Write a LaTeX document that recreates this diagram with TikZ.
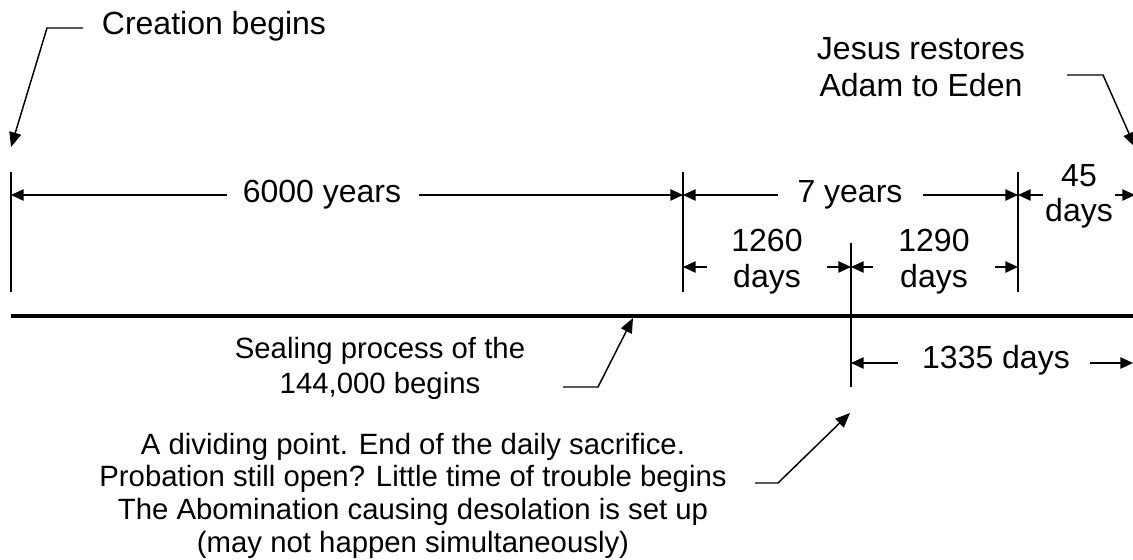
\documentclass[tikz,border=0pt]{standalone}
\usepackage{fontspec}
\setmainfont{Liberation Sans}
\usetikzlibrary{arrows.meta}
\tikzset{
  ln/.style={line width=1.1pt},
  mainline/.style={line width=2.6pt},
  dimarrow/.style={line width=1.1pt,-{Triangle[length=9.5pt,width=8.5pt]}},
  leader/.style={line width=1.1pt,-{Triangle[length=11pt,width=9pt]}},
  bigtext/.style={font=\fontsize{24}{27}\selectfont, align=center, inner sep=0pt, anchor=base},
  smalltext/.style={font=\fontsize{22}{25}\selectfont, align=center, inner sep=0pt, anchor=base},
}
\begin{document}
\begin{tikzpicture}[x=0.75pt,y=-0.75pt]
\useasboundingbox (0,0) rectangle (1133,560);
\clip (0,0) rectangle (1133,560);

% vertical marker lines
\coordinate (v0t) at (11,172);   \coordinate (v0b) at (11,292);
\coordinate (v1t) at (683,172);  \coordinate (v1b) at (683,292);
\coordinate (v2t) at (1018,172); \coordinate (v2b) at (1018,292);
\coordinate (vmt) at (851,243);  \coordinate (vmb) at (851,387);
\draw[ln] (v0t) -- (v0b);
\draw[ln] (v1t) -- (v1b);
\draw[ln] (v2t) -- (v2b);
\draw[ln] (vmt) -- (vmb);

% main time line
\coordinate (m0) at (11,316); \coordinate (m1) at (1133,316);
\draw[mainline] (m0) -- (m1);

% dimension labels (base = baseline of last line)
\node[bigtext] (t6000) at (322,203) {6000 years};
\node[bigtext] (t7) at (850,203) {7 years};
\node[bigtext, font=\fontsize{24}{26.25}\selectfont] (t45) at (1079,221) {45\\days};
\node[bigtext] (t1260) at (767,287) {1260\\days};
\node[bigtext] (t1290) at (934,287) {1290\\days};
\node[bigtext] (t1335) at (996,368) {1335 days};

% dimension arrows
\coordinate (a6l) at (227,195); \coordinate (a6r) at (419,195);
\coordinate (e6l) at (11,195);  \coordinate (e6r) at (683,195);
\draw[dimarrow] (a6l) -- (e6l);
\draw[dimarrow] (a6r) -- (e6r);

\coordinate (a7l) at (778,195); \coordinate (a7r) at (923,195);
\coordinate (e7l) at (683,195); \coordinate (e7r) at (1018,195);
\draw[dimarrow] (a7l) -- (e7l);
\draw[dimarrow] (a7r) -- (e7r);

\coordinate (a45l) at (1043,195); \coordinate (a45r) at (1115,195);
\coordinate (e45l) at (1018,195); \coordinate (e45r) at (1135,195);
\draw[dimarrow] (a45l) -- (e45l);
\draw[dimarrow] (a45r) -- (e45r);

\coordinate (a126l) at (707,267); \coordinate (a126r) at (827,267);
\coordinate (e126l) at (683,267); \coordinate (e126r) at (851,267);
\draw[dimarrow] (a126l) -- (e126l);
\draw[dimarrow] (a126r) -- (e126r);

\coordinate (a129l) at (873,267); \coordinate (a129r) at (995,267);
\coordinate (e129l) at (851,267); \coordinate (e129r) at (1018,267);
\draw[dimarrow] (a129l) -- (e129l);
\draw[dimarrow] (a129r) -- (e129r);

\coordinate (a133l) at (898,363); \coordinate (a133r) at (1090,363);
\coordinate (e133l) at (851,363); \coordinate (e133r) at (1133,363);
\draw[dimarrow] (a133l) -- (e133l);
\draw[dimarrow] (a133r) -- (e133r);

% annotations
\node[bigtext] (creation) at (214,35) {Creation begins};
\coordinate (c0) at (83,28); \coordinate (c1) at (47,28); \coordinate (c2) at (11,147);
\draw[leader] (c0) -- (c1) -- (c2);

\node[bigtext, font=\fontsize{24}{27.75}\selectfont] (jesus) at (921,97) {Jesus restores\\Adam to Eden};
\coordinate (j0) at (1067,75); \coordinate (j1) at (1103,75); \coordinate (j2) at (1135,147);
\draw[leader] (j0) -- (j1) -- (j2);

\node[smalltext, font=\fontsize{22}{26.25}\selectfont] (sealing) at (380,393) {Sealing process of the\\144,000 begins};
\coordinate (s0) at (563,387); \coordinate (s1) at (598,387); \coordinate (s2) at (633,318);
\draw[leader] (s0) -- (s1) -- (s2);

\node[smalltext, font=\fontsize{22}{24.5}\selectfont] (dividing) at (413,552) {A dividing point. End of the daily sacrifice.\\Probation still open? Little time of trouble begins\\The Abomination causing desolation is set up\\(may not happen simultaneously)};
\coordinate (d0) at (755,483); \coordinate (d1) at (778,483); \coordinate (d2) at (850,413);
\draw[leader] (d0) -- (d1) -- (d2);
\end{tikzpicture}
\end{document}
